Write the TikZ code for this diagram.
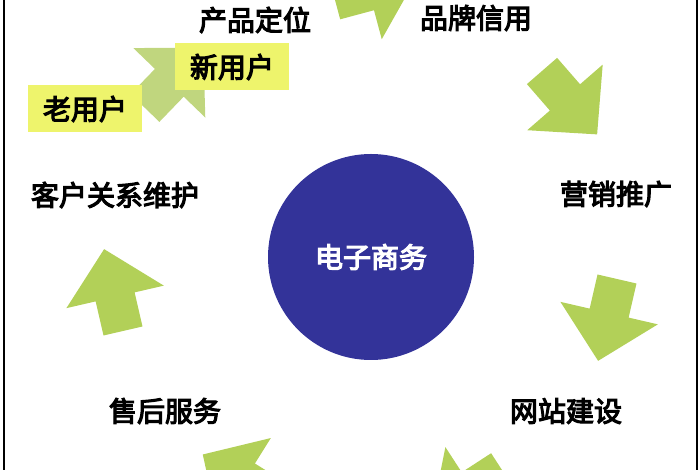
\documentclass[tikz,border=0pt]{standalone}
\usepackage{fontspec}
\setmainfont{Noto Sans CJK SC}[BoldFont={Noto Sans CJK SC}, BoldFeatures={FakeBold=4}]
\usepackage{tikz}
\usetikzlibrary{positioning}
\definecolor{ecnavy}{RGB}{51,51,153}
\definecolor{ecgreen}{RGB}{178,208,88}
\definecolor{ecpale}{RGB}{192,214,126}
\definecolor{eclemon}{RGB}{238,244,108}
\tikzstyle{hub} = [circle, fill=ecnavy, minimum size=206pt, inner sep=0pt, text=white, font=\fontsize{28}{30}\selectfont\bfseries]
\tikzstyle{stage} = [inner sep=0pt, text=black, font=\fontsize{28}{30}\selectfont\bfseries]
\tikzstyle{tag} = [rectangle, fill=eclemon, minimum width=114pt, minimum height=47pt, inner sep=0pt, font=\fontsize{28}{30}\selectfont\bfseries]
\newcommand{\greenarrow}[3]{\fill[#3, shift={(#1)}, rotate=#2] (0,-20) -- (35,-20) -- (35,-50) -- (84,0) -- (35,50) -- (35,20) -- (0,20) -- cycle;}

\begin{document}
\begin{tikzpicture}[x=1pt, y=1pt]
\useasboundingbox (0,0) rectangle (700,470);
\clip (0,0) rectangle (700,470);
% Cycle arrows
\greenarrow{335,470}{15}{ecgreen}
\greenarrow{542,399}{-49}{ecgreen}
\greenarrow{617,191}{-103}{ecgreen}
\greenarrow{502,0}{213}{ecgreen}
\greenarrow{274,-29}{148}{ecgreen}
\greenarrow{123,139}{103}{ecgreen}
\greenarrow{145,362}{46}{ecpale}

% Centre
\node (core) [hub] at (371,213) {电子商务};

% Stages round the centre
\node (position) [stage, above of=core, node distance=237pt, xshift=-116pt] {产品定位};
\node (brand) [stage, above of=core, node distance=239pt, xshift=105pt] {品牌信用};
\node (promo) [stage, right of=core, node distance=245pt, yshift=63pt] {营销推广};
\node (site) [stage, below of=core, node distance=154pt, xshift=195pt] {网站建设};
\node (service) [stage, below of=core, node distance=154pt, xshift=-206pt] {售后服务};
\node (care) [stage, left of=core, node distance=256pt, yshift=62pt] {客户关系维护};

% Users
\node (newuser) [tag, above of=core, node distance=190pt, xshift=-139pt] {新用户};
\node (olduser) [tag, left of=newuser, node distance=147pt, yshift=-42pt] {老用户};

% Frame
\draw[line width=2pt] (4,0) -- (4,470);
\draw[line width=2pt] (697,0) -- (697,470);
\end{tikzpicture}
\end{document}
